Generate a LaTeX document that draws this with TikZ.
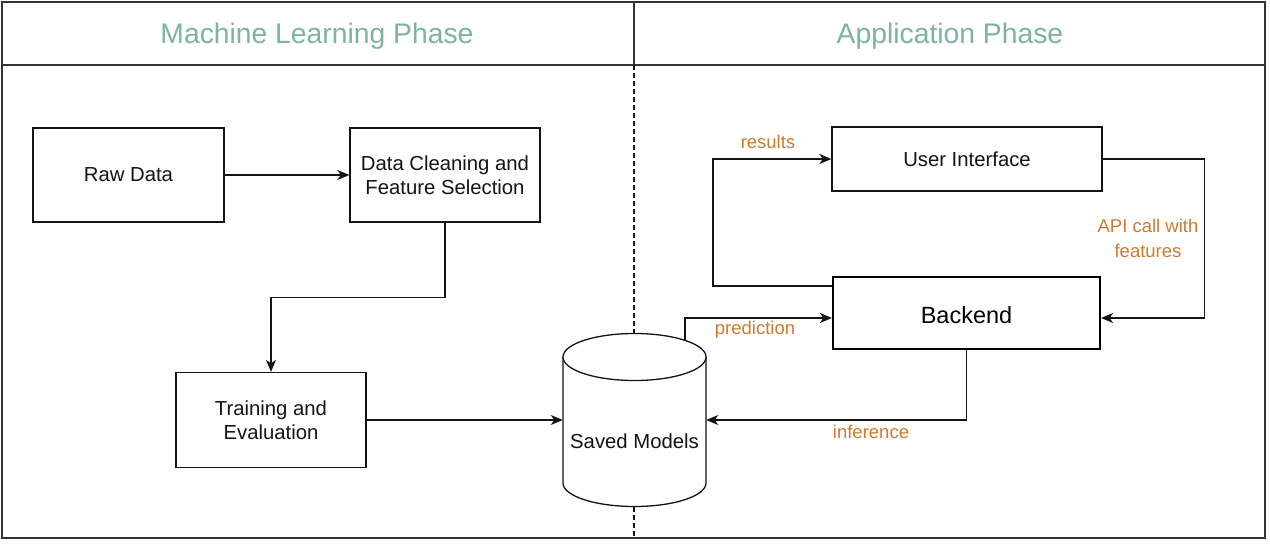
\documentclass[tikz,border=0pt]{standalone}
\usepackage{fontspec}
\setmainfont{Liberation Sans}
\usetikzlibrary{arrows.meta,calc}
\definecolor{teal}{HTML}{7DB3A2}
\definecolor{lbl}{HTML}{CF7A2E}
\definecolor{ink}{HTML}{141414}
\definecolor{frame}{HTML}{333333}
\tikzset{
  box/.style={draw=ink, line width=1.3pt, fill=white, text=ink, align=center,
    font=\fontsize{20.3}{24.5}\selectfont, inner sep=0pt},
  arr/.style={draw=ink, line width=1.3pt, -{Stealth[length=12pt,width=10pt,inset=3.5pt]}},
  lab/.style={text=lbl, align=center, font=\fontsize{18.5}{25}\selectfont, inner sep=0pt},
  title/.style={text=teal, font=\fontsize{28.3}{32}\selectfont, inner sep=0pt},
}
\begin{document}
\begin{tikzpicture}[x=1pt,y=-1pt]
\useasboundingbox (0,0) rectangle (1270,544);
% frame
\draw[draw=frame, line width=1.6pt] (2,2) rectangle (1265,538);
\draw[draw=frame, line width=2pt] (2,65) -- (1265,65);
\draw[draw=frame, line width=1.6pt] (634,2) -- (634,65);
\draw[draw=ink, line width=1.1pt, dash pattern=on 5pt off 3pt] (634,65) -- (634,333);
\draw[draw=ink, line width=1.1pt, dash pattern=on 5pt off 3pt] (634,507) -- (634,538);
% titles
\node[title] (t1) at (317,36.5) {Machine Learning Phase};
\node[title] (t2) at (950,36.5) {Application Phase};
% boxes
\node[box, minimum width=191pt, minimum height=94pt] (raw) at (128.5,175) {Raw Data};
\node[box, minimum width=190pt, minimum height=94pt] (dc) at (445,175) {Data Cleaning and\\Feature Selection};
\node[box, minimum width=190pt, minimum height=95pt] (train) at (271,420) {Training and\\Evaluation};
\node[box, minimum width=270pt, minimum height=64pt] (ui) at (967,159) {User Interface};
\node[box, line width=2.2pt, draw=black, text=black, minimum width=267pt, minimum height=72pt,
  font=\fontsize{23.5}{28}\selectfont] (be) at (966.5,313) {};
\node[text=black, font=\fontsize{23.5}{28}\selectfont, inner sep=0pt] (bet) at (966.5,315.5) {Backend};
% cylinder
\node[minimum width=143pt, minimum height=150pt, inner sep=0pt] (db) at (634.5,420) {};
\draw[draw=ink, line width=1.3pt, fill=white] (563,357) -- (563,483)
  arc[start angle=180, end angle=360, x radius=71.5pt, y radius=23.5pt] -- (706,357);
\draw[draw=ink, line width=1.3pt, fill=white] (634.5,357) ellipse [x radius=71.5pt, y radius=23.5pt];
\node[text=ink, font=\fontsize{20.3}{24}\selectfont, inner sep=0pt] (dbt) at (634.5,441) {Saved Models};
\coordinate (dbtop) at (685,340);
% connectors
\draw[arr] (raw.east) -- (dc.west);
\draw[arr] (dc.south) -- ++(0,75) -| (train.north);
\draw[arr] (train.east) -- (db.west);
\draw[arr] (be.south) |- (db.east);
\draw[arr] (dbtop) |- ([yshift=-5pt]be.west);
\draw[arr] ([yshift=27pt]be.west) -- (713,286) |- (ui.west);
\draw[arr] (ui.east) -- ++(102,0) |- ([yshift=-5pt]be.east);
% labels
\node[lab] (l1) at (768,142) {results};
\node[lab] (l2) at (755,330) {prediction};
\node[lab] (l3) at (871,432) {inference};
\node[lab] (l4) at (1148,238) {API call with\\features};
\end{tikzpicture}
\end{document}
